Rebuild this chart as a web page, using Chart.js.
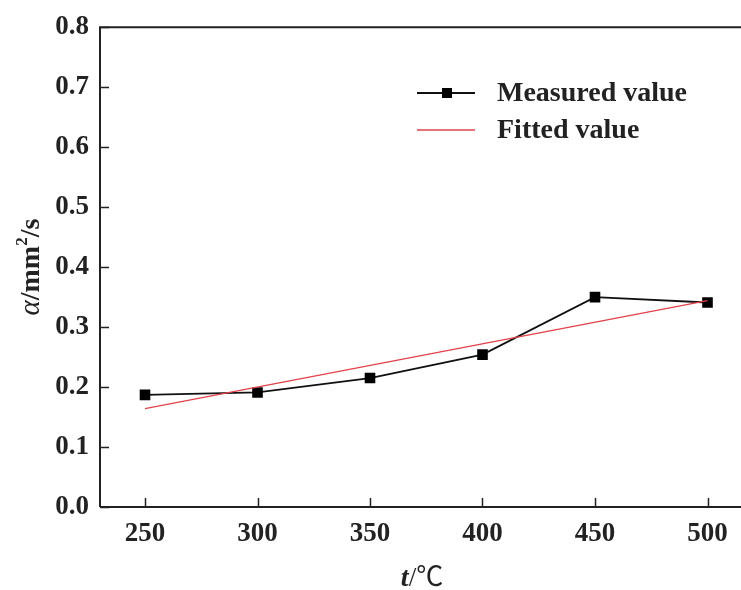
<!DOCTYPE html>
<html>
<head>
<meta charset="utf-8">
<script src="https://cdn.jsdelivr.net/npm/chart.js@4.4.1/dist/chart.umd.min.js"></script>
<style>
  html, body { margin: 0; padding: 0; background: #fff; overflow: hidden; }
  #wrap { width: 760px; height: 590px; }
</style>
</head>
<body>
<div id="wrap"><canvas id="diffChart"></canvas></div>
<script>
const temps = [250, 300, 350, 400, 450, 500];
const measured = [0.187, 0.191, 0.215, 0.254, 0.350, 0.341];
const fitTemps = [250, 500];
const fitted = [0.164, 0.344];
const xTicks = [250, 300, 350, 400, 450, 500];

const SERIF = '"Liberation Serif", "DejaVu Serif", serif';
const INK = '#222';

// short inward ticks + frame, axis titles with mixed styles, legend
const decor = {
  id: 'decor',
  afterDraw(chart) {
    const { ctx, chartArea: a, scales } = chart;
    ctx.save();
    ctx.strokeStyle = INK;
    ctx.lineWidth = 2;
    ctx.beginPath();
    ctx.moveTo(a.left, a.bottom); ctx.lineTo(a.left, a.top); ctx.lineTo(a.right, a.top);
    ctx.moveTo(a.left, a.bottom); ctx.lineTo(a.right, a.bottom);
    ctx.lineTo(a.right, a.top);
    ctx.stroke();

    ctx.lineWidth = 1.5;
    ctx.beginPath();
    scales.x.ticks.forEach(t => {
      const px = Math.round(scales.x.getPixelForValue(t.value)) + 0.5;
      ctx.moveTo(px, a.bottom); ctx.lineTo(px, a.bottom - 9);
    });
    scales.y.ticks.forEach(t => {
      const py = Math.round(scales.y.getPixelForValue(t.value)) + 0.5;
      ctx.moveTo(a.left, py); ctx.lineTo(a.left + 9, py);
    });
    ctx.stroke();

    // y title: α/mm²/s
    ctx.fillStyle = INK;
    ctx.textBaseline = 'alphabetic';
    ctx.save();
    ctx.translate(39, (a.top + a.bottom) / 2);
    ctx.rotate(-Math.PI / 2);
    const parts = [
      ['italic 29px ' + SERIF, 'α', 0],
      ['bold 28px ' + SERIF, '/mm', 0],
      ['bold 17px ' + SERIF, '2', -12],
      ['bold 28px ' + SERIF, '/s', 0]
    ];
    let w = 0;
    parts.forEach(p => { ctx.font = p[0]; w += ctx.measureText(p[1]).width; });
    let x = -w / 2;
    parts.forEach(p => { ctx.font = p[0]; ctx.fillText(p[1], x, p[2]); x += ctx.measureText(p[1]).width; });
    ctx.restore();

    // x title: t/℃
    const xp = [
      ['italic bold 28px ' + SERIF, 't'],
      ['27px ' + SERIF, '/'],
      ['27px "Noto Sans CJK SC", sans-serif', '℃']
    ];
    w = 0;
    xp.forEach(p => { ctx.font = p[0]; w += ctx.measureText(p[1]).width; });
    x = 422 - w / 2;
    xp.forEach(p => { ctx.font = p[0]; ctx.fillText(p[1], x, 586); x += ctx.measureText(p[1]).width; });

    // legend
    const ds = chart.data.datasets;
    ctx.font = 'bold 28px ' + SERIF;
    ctx.textBaseline = 'middle';
    [93, 130].forEach((ly, i) => {
      ctx.strokeStyle = ds[i].borderColor;
      ctx.lineWidth = ds[i].borderWidth;
      ctx.beginPath(); ctx.moveTo(417, ly); ctx.lineTo(475, ly); ctx.stroke();
      if (i === 0) { ctx.fillStyle = '#000'; ctx.fillRect(442, ly - 5, 10, 10); }
      ctx.fillStyle = INK;
      ctx.fillText(ds[i].label, 497, ly + 1);
    });
    ctx.restore();
  }
};

new Chart(document.getElementById('diffChart'), {
  type: 'scatter',
  data: {
    datasets: [
      {
        label: 'Measured value',
        data: temps.map((t, i) => ({ x: t, y: measured[i] })),
        showLine: true,
        borderColor: '#111',
        backgroundColor: '#000',
        borderWidth: 1.8,
        pointStyle: 'rect',
        pointRadius: 7.5,
        pointBorderWidth: 0,
        order: 1
      },
      {
        label: 'Fitted value',
        data: fitTemps.map((t, i) => ({ x: t, y: fitted[i] })),
        showLine: true,
        borderColor: '#e3424a',
        borderWidth: 1.3,
        pointRadius: 0,
        order: 0
      }
    ]
  },
  options: {
    responsive: true,
    maintainAspectRatio: false,
    animation: false,
    layout: { padding: { top: 25, right: 6, left: 0, bottom: 0 } },
    plugins: { legend: { display: false }, tooltip: { enabled: false } },
    scales: {
      x: {
        type: 'linear',
        min: 230,
        max: 520,
        afterBuildTicks: s => { s.ticks = xTicks.map(v => ({ value: v })); },
        afterFit: s => { s.height = 83; },
        grid: { display: false, drawTicks: false },
        border: { display: false },
        ticks: { color: INK, padding: 11, font: { family: SERIF, size: 27, weight: 'bold' } }
      },
      y: {
        min: 0,
        max: 0.8,
        afterFit: s => { s.width = 100; },
        grid: { display: false, drawTicks: false },
        border: { display: false },
        ticks: {
          stepSize: 0.1,
          color: INK,
          padding: 11,
          font: { family: SERIF, size: 27, weight: 'bold' },
          callback: v => v.toFixed(1)
        }
      }
    }
  },
  plugins: [decor]
});
</script>
</body>
</html>
